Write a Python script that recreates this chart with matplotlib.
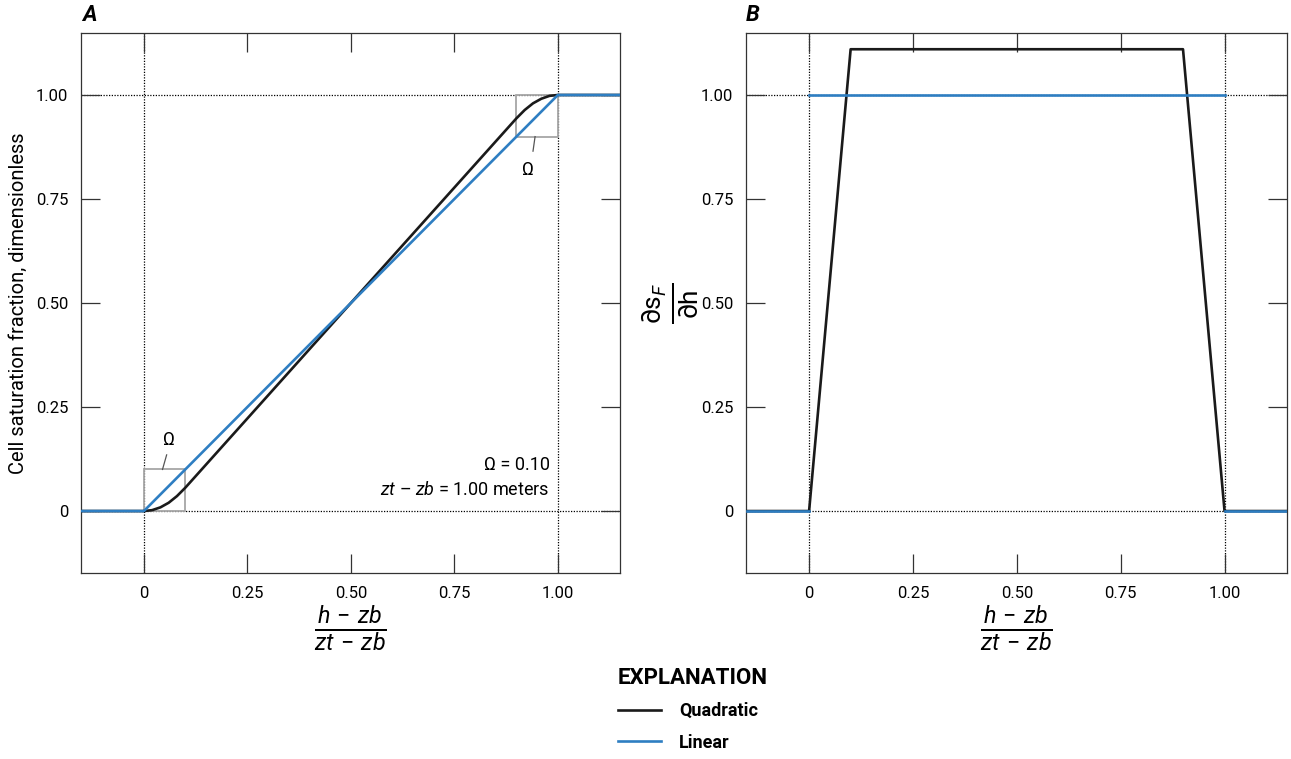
import numpy as np
import matplotlib
matplotlib.use("Agg")
import matplotlib.pyplot as plt
from matplotlib.lines import Line2D

plt.rcParams['font.family'] = ['Roboto', 'DejaVu Sans']
plt.rcParams['mathtext.fontset'] = 'custom'
plt.rcParams['mathtext.rm'] = 'Roboto'
plt.rcParams['mathtext.it'] = 'Roboto:italic'

# panel A: saturation fraction vs scaled head
quad_x = [-0.15, 0.0, 0.02, 0.04, 0.06, 0.08, 0.10, 0.90, 0.92, 0.94, 0.96, 0.98, 1.00, 1.15]
quad_y = [0.0, 0.0, 0.0022, 0.0089, 0.020, 0.036, 0.056, 0.944, 0.964, 0.980, 0.991, 0.998, 1.0, 1.0]
lin_x = [-0.15, 0.0, 1.0, 1.15]
lin_y = [0.0, 0.0, 1.0, 1.0]

# panel B: derivative of saturation fraction
dquad_x = [-0.15, 0.0, 0.10, 0.90, 1.00, 1.15]
dquad_y = [0.0, 0.0, 1.11, 1.11, 0.0, 0.0]
dlin_segments = [([-0.15, 0.0], [0.0, 0.0]), ([0.0, 1.0], [1.0, 1.0]), ([1.0, 1.15], [0.0, 0.0])]

ticks = [0, 0.25, 0.5, 0.75, 1.0]
tick_labels = ['0', '0.25', '0.50', '0.75', '1.00']
omega = 0.10

blue = '#2e7ec2'
black = '#1a1a1a'
grey = '#a6a6a6'

fig = plt.figure(figsize=(12.91, 7.59), dpi=100)
axA = fig.add_axes([0.0627, 0.245, 0.4175, 0.7115])
axB = fig.add_axes([0.5778, 0.245, 0.419, 0.7115])


def style_axis(ax):
    ax.set_xlim(-0.152, 1.15)
    ax.set_ylim(-0.149, 1.149)
    ax.set_xticks(ticks)
    ax.set_xticklabels(tick_labels)
    ax.set_yticks(ticks)
    ax.set_yticklabels(tick_labels)
    ax.tick_params(direction='in', length=14, width=0.9, color='#333333',
                   top=True, right=True, labelsize=12, pad=9)
    for s in ax.spines.values():
        s.set_linewidth(0.9)
        s.set_color('#333333')
    for v in (0, 1):
        ax.axvline(v, color='black', lw=0.9, ls=(0, (1, 1.2)), zorder=1)
        ax.axhline(v, color='black', lw=0.9, ls=(0, (1, 1.2)), zorder=1)
    ax.set_xlabel(r'$\frac{h\,-\,zb}{zt\,-\,zb}$', fontsize=24, labelpad=2)


style_axis(axA)
style_axis(axB)

# omega boxes
for x0 in (0.0, 1.0 - omega):
    axA.add_patch(plt.Rectangle((x0, x0), omega, omega, fill=False,
                                edgecolor=grey, lw=1.3, zorder=2))
axA.plot([0.045, 0.055], [0.1, 0.135], color='#555555', lw=0.9)
axA.text(0.06, 0.17, 'Ω', ha='center', va='center', fontsize=13)
axA.plot([0.945, 0.94], [0.9, 0.865], color='#555555', lw=0.9)
axA.text(0.928, 0.82, 'Ω', ha='center', va='center', fontsize=13)

axA.plot(quad_x, quad_y, color=black, lw=1.9, zorder=3)
axA.plot(lin_x, lin_y, color=blue, lw=1.9, zorder=4)
axA.text(0.98, 0.11, 'Ω = 0.10', ha='right', va='center', fontsize=13)
axA.text(0.98, 0.05, r'$zt$ – $zb$ = 1.00 meters', ha='right', va='center', fontsize=13)
axA.set_ylabel('Cell saturation fraction, dimensionless', fontsize=14.5, labelpad=6)

axB.plot(dquad_x, dquad_y, color=black, lw=1.9, zorder=3)
for sx, sy in dlin_segments:
    axB.plot(sx, sy, color=blue, lw=1.9, zorder=4)
axB.set_ylabel(r'$\frac{\partial \mathrm{s}_F}{\partial \mathrm{h}}$', fontsize=27, labelpad=0)

fig.text(0.0635, 0.98, 'A', fontsize=16, fontweight='bold', fontstyle='italic', va='center')
fig.text(0.578, 0.98, 'B', fontsize=16, fontweight='bold', fontstyle='italic', va='center')

handles = [Line2D([], [], color=black, lw=1.9), Line2D([], [], color=blue, lw=1.9)]
leg = fig.legend(handles, ['Quadratic', 'Linear'], loc='upper left',
                 bbox_to_anchor=(0.466, 0.143), frameon=False, title='EXPLANATION',
                 alignment='left', prop={'weight': 'bold', 'size': 13},
                 title_fontproperties={'weight': 'bold', 'size': 16},
                 handlelength=2.4, handletextpad=1.0, labelspacing=0.75)

fig.savefig('out.png', dpi=100)
